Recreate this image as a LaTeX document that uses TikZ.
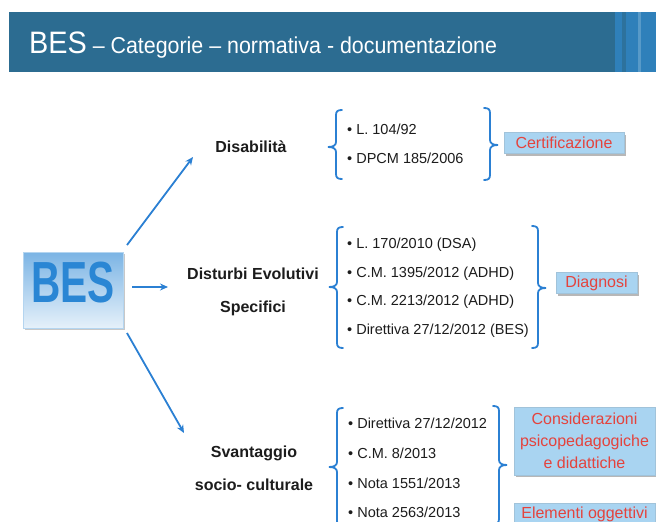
\documentclass[tikz,border=0pt]{standalone}
\usepackage{fontspec}
\setmainfont{Liberation Sans}
\newfontfamily\titlefont{Liberation Sans}[FakeStretch=0.93]
\newfontfamily\besfont{Liberation Sans}[FakeStretch=0.7]
\usetikzlibrary{arrows.meta,shadows}
\definecolor{band}{HTML}{2C6C91}
\definecolor{bandr}{HTML}{2F80BA}
\definecolor{lineblue}{HTML}{2B80D3}
\definecolor{besblue}{HTML}{2A86D4}
\definecolor{lblfill}{HTML}{A9D4F1}
\definecolor{lblred}{HTML}{E4433D}
\definecolor{ink}{HTML}{1C1C1C}
\tikzset{
  arr/.style={draw=lineblue,line width=1.8pt,-{Stealth[length=8pt,width=7pt]}},
  brk/.style={draw=lineblue,line width=1.8pt,line cap=round},
  item/.style={anchor=west,inner sep=0pt,text height=10pt,text depth=3pt,text=ink,font=\fontsize{14.5pt}{16pt}\selectfont},
  cat/.style={inner sep=0pt,text=ink,align=center,font=\fontsize{16pt}{33pt}\selectfont\bfseries},
  lbl/.style={fill=lblfill,draw=lblfill!80!gray,line width=0.4pt,text=lblred,align=center,
     inner sep=0pt,font=\fontsize{16pt}{22pt}\selectfont,
     drop shadow={shadow xshift=2pt,shadow yshift=-2pt,fill=black!35,opacity=0.8}},
}
\newcommand\LBr[4]{% x, top, tip, bottom : brace opening to the right
  \draw[brk] (#1+6,#2) .. controls (#1+2,#2) and (#1,#2+1) .. (#1,#2+5) -- (#1,#3-5)
    .. controls (#1,#3-1.5) and (#1-3,#3) .. (#1-8,#3)
    .. controls (#1-3,#3) and (#1,#3+1.5) .. (#1,#3+5) -- (#1,#4-5)
    .. controls (#1,#4-1) and (#1+2,#4) .. (#1+6,#4);}
\newcommand\RBr[4]{% x, top, tip, bottom : brace opening to the left
  \draw[brk] (#1-6,#2) .. controls (#1-2,#2) and (#1,#2+1) .. (#1,#2+5) -- (#1,#3-5)
    .. controls (#1,#3-1.5) and (#1+3,#3) .. (#1+8,#3)
    .. controls (#1+3,#3) and (#1,#3+1.5) .. (#1,#3+5) -- (#1,#4-5)
    .. controls (#1,#4-1) and (#1-2,#4) .. (#1-6,#4);}
\begin{document}
\begin{tikzpicture}[x=1pt,y=-1pt]
\useasboundingbox (0,0) rectangle (656,522);
\clip (0,0) rectangle (656,522);
\fill[white] (0,0) rectangle (656,522);
% header band
\fill[band] (9,12) rectangle (615,72);
\fill[bandr] (615,12) rectangle (656,72);
\fill[band!70!bandr] (622,12) rectangle (626,72);
\fill[bandr!80!white] (638,12) rectangle (641,72);
\node[anchor=base west,inner sep=0pt,text=white] (title) at (29,53)
  {\titlefont\fontsize{31pt}{31pt}\selectfont BES\fontsize{23pt}{23pt}\selectfont\ – Categorie – normativa - documentazione};
% BES box
\node[minimum width=100pt,minimum height=76pt,inner sep=0pt,top color=besblue!62!white,bottom color=besblue!12!white,
  draw=besblue!35!white,line width=0.5pt,text=besblue,text depth=15pt,
  drop shadow={shadow xshift=1.5pt,shadow yshift=-1.5pt,fill=black!30,opacity=0.7},
  font=\besfont\bfseries\fontsize{58pt}{58pt}\selectfont] (bes) at (73,290) {BES};
% category labels
\node[cat] (dis) at (251,147) {Disabilità};
\node[cat] (dev) at (253,292) {Disturbi Evolutivi\\Specifici};
\node[cat] (sva) at (254,468) {Svantaggio\\socio- culturale};
% arrows
\coordinate (a1s) at (127,245); \coordinate (a1e) at (193,157);
\coordinate (a2s) at (132,287); \coordinate (a2e) at (168,287);
\coordinate (a3s) at (127,333); \coordinate (a3e) at (184,433);
\draw[arr] (a1s) -- (a1e);
\draw[arr] (a2s) -- (a2e);
\draw[arr] (a3s) -- (a3e);
% group 1
\LBr{336}{110}{147}{179}
\RBr{490}{108}{145}{180}
\node[item] (g1a) at (347,131) {• L. 104/92};
\node[item] (g1b) at (347,160) {• DPCM 185/2006};
\node[lbl,minimum width=120pt,minimum height=21pt] (cert) at (564,143) {Certificazione};
% group 2
\LBr{337}{227}{287}{348}
\RBr{538}{226}{288}{348}
\node[item] (g2a) at (347,245) {• L. 170/2010 (DSA)};
\node[item] (g2b) at (347,274) {• C.M. 1395/2012 (ADHD)};
\node[item] (g2c) at (347,302) {• C.M. 2213/2012 (ADHD)};
\node[item] (g2d) at (347,331) {• Direttiva 27/12/2012 (BES)};
\node[lbl,minimum width=81pt,minimum height=21pt] (diag) at (596.5,283) {Diagnosi};
% group 3
\LBr{337}{408}{467}{526}
\RBr{499}{406}{465}{524}
\node[item] (g3a) at (348,425) {• Direttiva 27/12/2012};
\node[item] (g3b) at (348,455) {• C.M. 8/2013};
\node[item] (g3c) at (348,485) {• Nota 1551/2013};
\node[item] (g3d) at (348,514) {• Nota 2563/2013};
\node[lbl,minimum width=141pt,minimum height=68pt] (cons) at (584.5,441) {Considerazioni\\psicopedagogiche\\e didattiche};
\node[lbl,minimum width=141pt,anchor=north,inner ysep=3pt,text height=12pt,text depth=22pt] (elem) at (584.5,503) {Elementi oggettivi};
\end{tikzpicture}
\end{document}
